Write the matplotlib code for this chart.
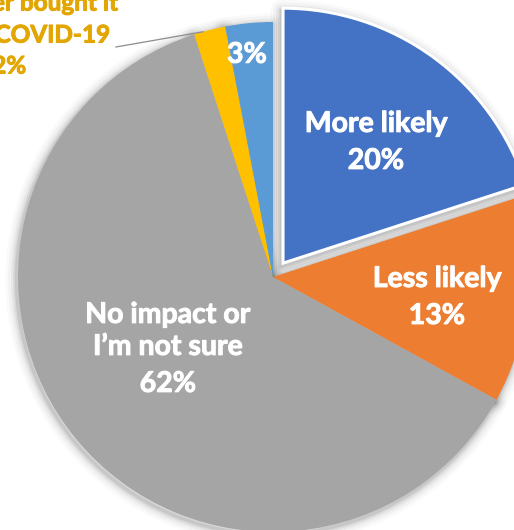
import numpy as np
import matplotlib
matplotlib.use("Agg")
import matplotlib.pyplot as plt
import matplotlib.patheffects as pe
from matplotlib.patches import Wedge
from matplotlib.transforms import offset_copy

plt.rcParams['font.family'] = ['Lato', 'DejaVu Sans']

# Survey answer shares (percent), clockwise from 12 o'clock
categories = ["More likely", "Less likely", "No impact or\nI\u2019m not sure",
              "I never bought it\nbefore COVID-19", ""]
values = [20, 13, 62, 2, 3]
colors = ["#4472C4", "#ED7D31", "#A5A5A5", "#FFC000", "#5B9BD5"]
explode = [0.067, 0, 0, 0, 0]

XLIM = (-1.0706, 0.9451)
YLIM = (-0.9922, 1.0863)

fig = plt.figure(figsize=(5.14, 5.30), dpi=100)
ax = fig.add_axes([0, 0, 1, 1])

wedges, _ = ax.pie(values, colors=colors, startangle=90, counterclock=False,
                   explode=explode, radius=1.0, center=(0, 0),
                   wedgeprops=dict(linewidth=0, zorder=3), frame=False)
ax.set_xlim(*XLIM)
ax.set_ylim(*YLIM)
ax.set_aspect("auto")
ax.axis("off")

# white rim around the pulled-out slice
wedges[0].set_edgecolor("white")
wedges[0].set_linewidth(2.2)

# soft drop shadow beneath every slice
for w in wedges:
    c = w.center
    for lw, a in [(16, 0.02), (12, 0.03), (8, 0.045), (5, 0.06), (2.5, 0.08)]:
        s = Wedge((c[0] - 0.006, c[1] - 0.010), w.r, w.theta1, w.theta2,
                  facecolor="none", edgecolor="black", linewidth=lw,
                  alpha=a, zorder=1, joinstyle="round")
        ax.add_patch(s)

FS = 20.5
WRAP = 32      # px between wrapped lines of a category name
VALGAP = 37    # px between category name and its value


def block(x, y, lines, gaps, color="white", ha="center", xoffs=None, fs=FS):
    """Stack lines downward from (x, y) (baseline of first line)."""
    dy = 0
    for i, line in enumerate(lines):
        if i > 0:
            dy -= gaps[i - 1]
        dx = 0 if xoffs is None else xoffs[i]
        tr = offset_copy(ax.transData, fig=fig, x=dx, y=dy, units="dots")
        ax.text(x, y, line, transform=tr, ha=ha, va="baseline",
                fontsize=fs, fontweight="bold", color=color, zorder=5,
                path_effects=[pe.Stroke(linewidth=0.7, foreground=color),
                              pe.Normal()])


def label_lines(i):
    names = categories[i].split("\n") if categories[i] else []
    lines = names + [f"{values[i]}%"]
    gaps = [WRAP] * (len(names) - 1) + ([VALGAP] if names else [])
    return lines, gaps


# first-line baseline anchor of each in-slice label (data units)
anchors = {0: (0.404, 0.569),
           1: (0.643, -0.039),
           2: (-0.412, -0.180),
           4: (-0.102, 0.840)}
for i, (x, y) in anchors.items():
    lines, gaps = label_lines(i)
    block(x, y, lines, gaps)

# callout for the thin slice
cum = np.cumsum([0] + values)
mid3 = np.deg2rad(90 - 3.6 * (cum[3] + values[3] / 2) + 1.5)
ax.plot([np.cos(mid3), -0.616], [np.sin(mid3), 0.902],
        color="#8C8C8C", lw=0.9, zorder=4)
lines, gaps = label_lines(3)
block(-0.608, 1.045, lines, [32, 31], color="#E3A600", ha="right",
      xoffs=[0, -8, -92], fs=17.5)

fig.savefig("out.png", dpi=100)
